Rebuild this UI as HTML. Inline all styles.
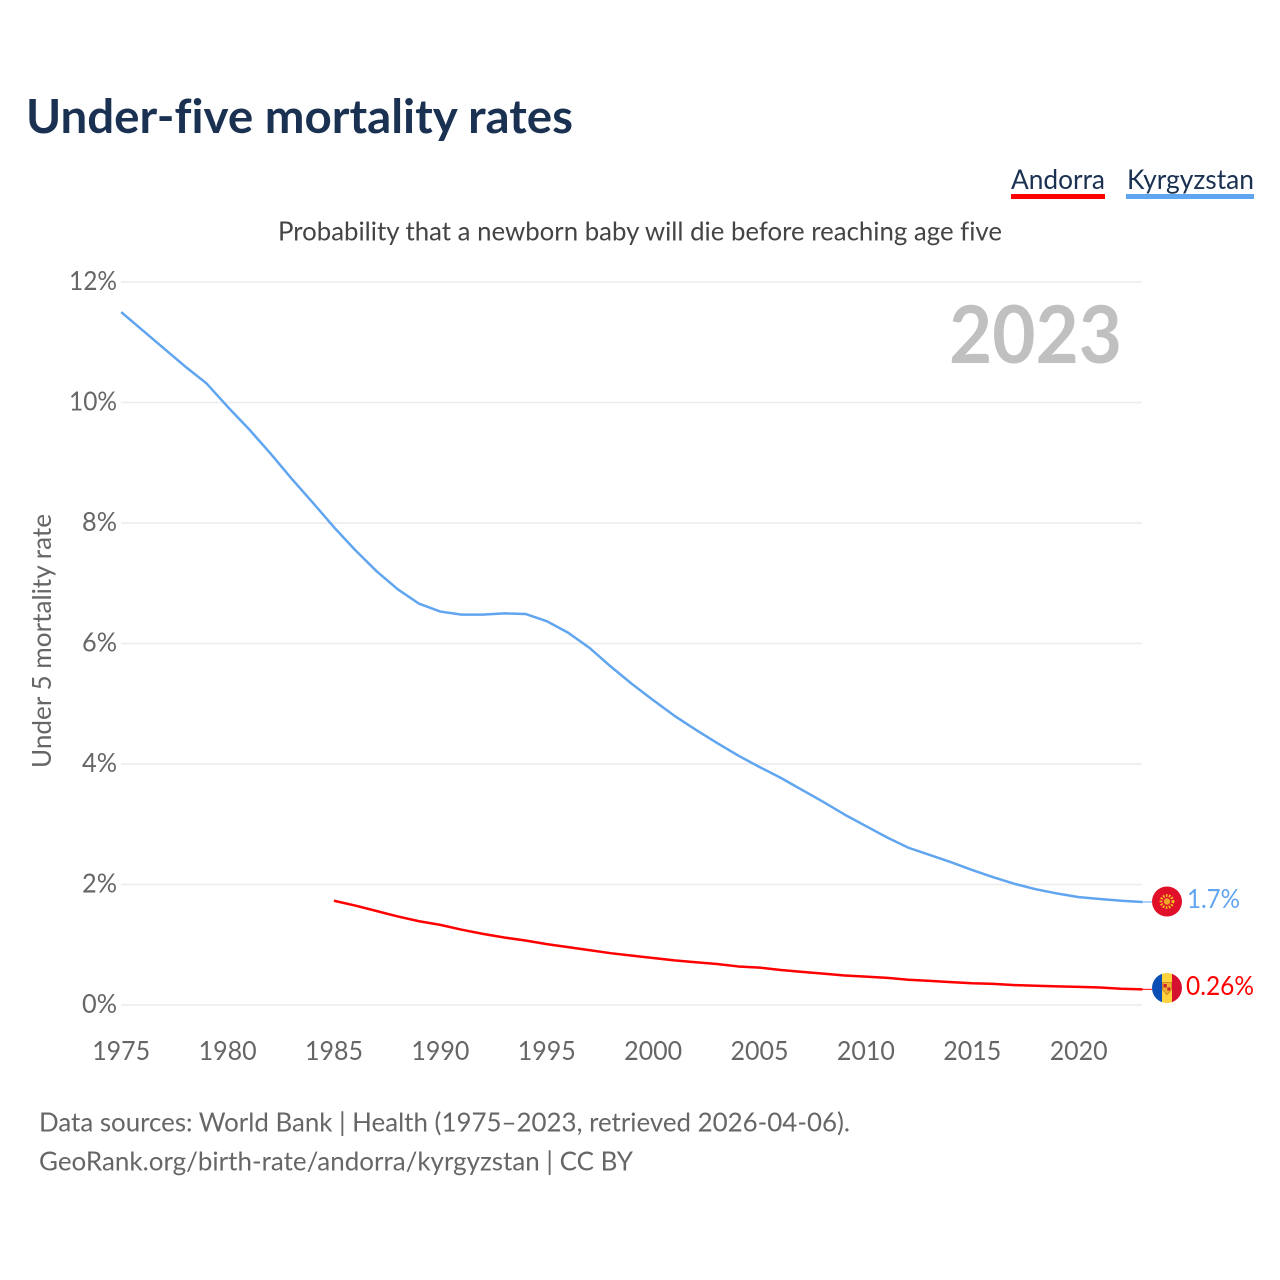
<!DOCTYPE html>
<html lang="en">
<head>
<meta charset="utf-8">
<title>Under-five mortality rates</title>
<style>
html,body{margin:0;padding:0;background:#fff;}
svg{display:block;}
text{font-family:"Lato","Carlito","Liberation Sans",sans-serif;font-variant-ligatures:none;}
</style>
</head>
<body>
<svg id="chart" xmlns="http://www.w3.org/2000/svg" width="1280" height="1280" viewBox="0 0 1280 1280">
  <rect x="0" y="0" width="1280" height="1280" fill="#fff"/>
  <text x="26" y="133" font-size="47" font-weight="700" fill="#1a3152" textLength="547" lengthAdjust="spacingAndGlyphs">Under-five mortality rates</text>
  <g>
    <text x="1011" y="189" font-size="27" fill="#1a3152" textLength="94" lengthAdjust="spacingAndGlyphs">Andorra</text>
    <rect x="1011" y="194" width="94" height="5" fill="#ff0000"/>
  </g>
  <g>
    <text x="1127" y="189" font-size="27" fill="#1a3152" textLength="127" lengthAdjust="spacingAndGlyphs">Kyrgyzstan</text>
    <rect x="1126" y="194" width="128" height="5" fill="#60a5ef"/>
  </g>
  <text x="278" y="240.5" font-size="26.5" fill="#444" textLength="724" lengthAdjust="spacingAndGlyphs">Probability that a newborn baby will die before reaching age five</text>
  <g id="grid"></g>
  <g id="yticks"></g>
  <g id="xticks"></g>
  <text transform="translate(51,768) rotate(-90)" font-size="26.5" fill="#666" textLength="254" lengthAdjust="spacingAndGlyphs">Under 5 mortality rate</text>
  <text x="949" y="363" font-size="80" font-weight="700" fill="#c0c0c0" textLength="173" lengthAdjust="spacingAndGlyphs">2023</text>
  <g id="series"></g>

  <g>
    <circle cx="1167" cy="901.5" r="15" fill="#e0102a"/>
    <circle cx="1167" cy="901.5" r="6" fill="none" stroke="#f5c21f" stroke-width="2.8" stroke-dasharray="1.6 1.4"/>
    <circle cx="1167" cy="901.5" r="3.2" fill="#eda52a"/>
  </g>
  <g>
    <clipPath id="ad-clip"><circle cx="1167" cy="988" r="15"/></clipPath>
    <g clip-path="url(#ad-clip)">
      <rect x="1152" y="973" width="10" height="30" fill="#0a4fb5"/>
      <rect x="1162" y="973" width="10" height="30" fill="#fdd23c"/>
      <rect x="1172" y="973" width="10" height="30" fill="#d6112f"/>
      <path d="M1162.5 982.5h9v7l-4.5 5l-4.5-5z" fill="#f0b030" stroke="#c87a20" stroke-width="0.8"/>
      <rect x="1163.5" y="984" width="3.2" height="3.5" fill="#c8202c"/>
      <rect x="1167.3" y="987.5" width="3" height="3" fill="#c8202c"/>
    </g>
  </g>
  <text x="1187" y="908" font-size="26.5" fill="#60a5ef" textLength="53" lengthAdjust="spacingAndGlyphs">1.7%</text>
  <text x="1186" y="995" font-size="26.5" fill="#ff0000" textLength="68" lengthAdjust="spacingAndGlyphs">0.26%</text>

  <text x="39" y="1131.5" font-size="26.5" fill="#666" textLength="811" lengthAdjust="spacingAndGlyphs">Data sources: World Bank | Health (1975–2023, retrieved 2026-04-06).</text>
  <text x="39" y="1170.5" font-size="26.5" fill="#666" textLength="594" lengthAdjust="spacingAndGlyphs">GeoRank.org/birth-rate/andorra/kyrgyzstan | CC BY</text>
</svg>
<script>
const yTickValues = [0, 2, 4, 6, 8, 10, 12];
const yTickLabels = ["0%", "2%", "4%", "6%", "8%", "10%", "12%"];
const xTickYears = [1975, 1980, 1985, 1990, 1995, 2000, 2005, 2010, 2015, 2020];
const kyrgyzstanStartYear = 1975;
const kyrgyzstanValues = [11.5, 11.2, 10.9, 10.6, 10.32, 9.93, 9.56, 9.16, 8.74, 8.34, 7.93, 7.55, 7.2, 6.9, 6.66, 6.53, 6.48, 6.48, 6.5, 6.49, 6.37, 6.18, 5.93, 5.62, 5.33, 5.06, 4.8, 4.57, 4.35, 4.14, 3.95, 3.77, 3.57, 3.37, 3.16, 2.97, 2.78, 2.61, 2.49, 2.37, 2.24, 2.12, 2.01, 1.92, 1.85, 1.79, 1.76, 1.73, 1.71];
const andorraStartYear = 1985;
const andorraValues = [1.73, 1.65, 1.56, 1.47, 1.39, 1.33, 1.25, 1.18, 1.12, 1.07, 1.01, 0.96, 0.91, 0.86, 0.82, 0.78, 0.74, 0.71, 0.68, 0.64, 0.62, 0.58, 0.55, 0.52, 0.49, 0.47, 0.45, 0.42, 0.40, 0.38, 0.36, 0.35, 0.33, 0.32, 0.31, 0.30, 0.29, 0.27, 0.26];

const NS = 'http://www.w3.org/2000/svg';
function xScale(year) { return 121.2 + (year - 1975) * (1079 - 121.5) / 45; }
function yScale(v) { return 1005 - v * (1005 - 282) / 12; }
function pathFrom(startYear, values) {
  return values.map(function (v, i) {
    return (i ? 'L' : 'M') + xScale(startYear + i).toFixed(2) + ' ' + yScale(v).toFixed(2);
  }).join(' ');
}

const grid = document.getElementById('grid');
const yticks = document.getElementById('yticks');
yTickValues.forEach(function (v, i) {
  const line = document.createElementNS(NS, 'line');
  
  
  line.setAttribute('x1', 121);
  line.setAttribute('x2', 1142);
  line.setAttribute('y1', yScale(v));
  line.setAttribute('y2', yScale(v));
  line.setAttribute('stroke', '#ececec');
  line.setAttribute('stroke-width', '1.6');
  grid.appendChild(line);

  const t = document.createElementNS(NS, 'text');
  
  
  t.setAttribute('x', 117);
  t.setAttribute('y', yScale(v) + 8);
  t.setAttribute('text-anchor', 'end');
  t.setAttribute('font-size', '26.5');
  t.setAttribute('fill', '#666');
  t.setAttribute('textLength', yTickLabels[i].length > 2 ? 48 : 35);
  t.setAttribute('lengthAdjust', 'spacingAndGlyphs');
  t.textContent = yTickLabels[i];
  yticks.appendChild(t);
});

const xticks = document.getElementById('xticks');
xTickYears.forEach(function (yr) {
  const t = document.createElementNS(NS, 'text');
  
  
  t.setAttribute('x', xScale(yr));
  t.setAttribute('y', 1060);
  t.setAttribute('text-anchor', 'middle');
  t.setAttribute('font-size', '26.5');
  t.setAttribute('fill', '#666');
  t.setAttribute('textLength', 58);
  t.setAttribute('lengthAdjust', 'spacingAndGlyphs');
  t.textContent = String(yr);
  xticks.appendChild(t);
});

const series = document.getElementById('series');
const kLine = document.createElementNS(NS, 'path');


kLine.setAttribute('d', pathFrom(kyrgyzstanStartYear, kyrgyzstanValues));
kLine.setAttribute('fill', 'none');
kLine.setAttribute('stroke', '#60a5ef');
kLine.setAttribute('stroke-width', '2.5');
kLine.setAttribute('stroke-linejoin', 'round');
series.appendChild(kLine);

const aLine = document.createElementNS(NS, 'path');


aLine.setAttribute('d', pathFrom(andorraStartYear, andorraValues));
aLine.setAttribute('fill', 'none');
aLine.setAttribute('stroke', '#ff0000');
aLine.setAttribute('stroke-width', '2.5');
aLine.setAttribute('stroke-linejoin', 'round');
series.appendChild(aLine);

const kLeader = document.createElementNS(NS, 'line');


kLeader.setAttribute('x1', xScale(2023));
kLeader.setAttribute('x2', 1152);
kLeader.setAttribute('y1', yScale(kyrgyzstanValues[kyrgyzstanValues.length - 1]));
kLeader.setAttribute('y2', yScale(kyrgyzstanValues[kyrgyzstanValues.length - 1]));
kLeader.setAttribute('stroke', '#60a5ef');
kLeader.setAttribute('stroke-width', '1');
series.appendChild(kLeader);

const aLeader = document.createElementNS(NS, 'line');


aLeader.setAttribute('x1', xScale(2023));
aLeader.setAttribute('x2', 1152);
aLeader.setAttribute('y1', yScale(andorraValues[andorraValues.length - 1]));
aLeader.setAttribute('y2', yScale(andorraValues[andorraValues.length - 1]));
aLeader.setAttribute('stroke', '#ff0000');
aLeader.setAttribute('stroke-width', '1');
series.appendChild(aLeader);
</script>
</body>
</html>
